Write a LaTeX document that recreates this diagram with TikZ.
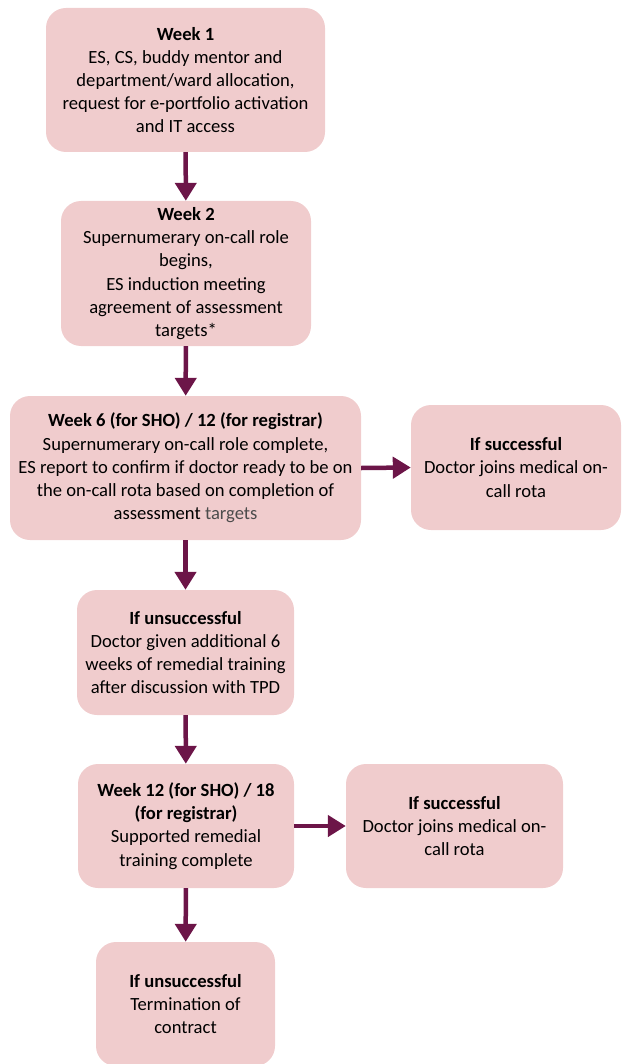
\documentclass[tikz,border=0pt]{standalone}
\usepackage{fontspec}
\setmainfont{Carlito}
\usetikzlibrary{arrows.meta,positioning}
\definecolor{boxfill}{RGB}{240,204,205}
\definecolor{arrc}{RGB}{108,21,72}

\begin{document}
\begin{tikzpicture}[x=1pt, y=-1pt,
    box/.style={rounded corners=20pt, fill=boxfill, align=center,
                font=\fontsize{18.6}{23.2}\selectfont, inner sep=0pt},
    arr/.style={-{Triangle[width=21pt,length=18pt]}, line width=4.5pt, arrc}]

    \useasboundingbox (0,0) rectangle (621,1064);

    % -- main column ----------------------------------------------
    \node[box, minimum width=279pt, minimum height=144pt] (wk1) at (185.5,80)
      {\textbf{Week 1}\\ES, CS, buddy mentor and\\department/ward allocation,\\request for e-portfolio activation\\and IT access};
    \node[box, minimum width=250pt, minimum height=145pt] (wk2) at (186,273.5)
      {\textbf{Week 2}\\Supernumerary on-call role\\begins,\\ES induction meeting\\agreement of assessment\\targets*};
    \node[box, minimum width=351pt, minimum height=144pt] (wk6) at (185.5,468)
      {\textbf{Week 6 (for SHO) / 12 (for registrar)}\\Supernumerary on-call role complete,\\ES report to confirm if doctor ready to be on\\the on-call rota based on completion of\\assessment \textcolor{black!70}{targets}};
    \node[box, minimum width=217pt, minimum height=125pt] (fail1) at (185.5,652.5)
      {\textbf{If unsuccessful}\\Doctor given additional 6\\weeks of remedial training\\after discussion with TPD};
    \node[box, minimum width=216pt, minimum height=124pt] (wk12) at (186,826)
      {\textbf{Week 12 (for SHO) / 18}\\\textbf{(for registrar)}\\Supported remedial\\training complete};
    \node[box, minimum width=179pt, minimum height=124pt] (fail2) at (185.5,1004)
      {\textbf{If unsuccessful}\\Termination of\\contract};

    % -- success branches -----------------------------------------
    \node[box, minimum width=210pt, minimum height=125pt] (ok1) at (516,467.5)
      {\textbf{If successful}\\Doctor joins medical on-\\call rota};
    \node[box, minimum width=217pt, minimum height=124pt] (ok2) at (454.5,826)
      {\textbf{If successful}\\Doctor joins medical on-\\call rota};

    % -- arrows ---------------------------------------------------
    \draw[arr] (wk1) -- (wk2);
    \draw[arr] (wk2) -- (wk6);
    \draw[arr] (wk6) -- (fail1);
    \draw[arr] (fail1) -- (wk12);
    \draw[arr] (wk12) -- (fail2);
    \draw[arr] (wk6.east) -- (ok1.west);
    \draw[arr] (wk12.east) -- (ok2.west);

\end{tikzpicture}
\end{document}
